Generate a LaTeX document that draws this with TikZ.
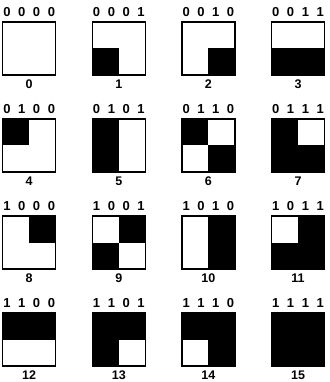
\documentclass[tikz,border=0pt]{standalone}
\usepackage{fontspec}
\setmainfont{Liberation Sans}
\usetikzlibrary{positioning}

\begin{document}
\begin{tikzpicture}[x=1pt,y=-1pt,
        cell/.style={draw, line width=1.3pt, minimum size=53pt, inner sep=0pt, outer sep=0pt},
        bit/.style={font=\bfseries\fontsize{13}{13}\selectfont, inner sep=0pt},
        num/.style={font=\bfseries\fontsize{12.5}{12.5}\selectfont, inner sep=0pt}]
        \useasboundingbox (0,0) rectangle (329,382);
        \foreach \n in {0,...,15}{
            \pgfmathtruncatemacro\row{floor(\n/4)}
            \pgfmathtruncatemacro\col{mod(\n,4)}
            \pgfmathtruncatemacro\bA{mod(\n,2)}
            \pgfmathtruncatemacro\bB{mod(floor(\n/2),2)}
            \pgfmathtruncatemacro\bC{mod(floor(\n/4),2)}
            \pgfmathtruncatemacro\bD{mod(floor(\n/8),2)}
            \node[cell] (c\n) at ({29.2+89.6*\col},{48.5+97*\row}) {};
            % one quadrant per bit
            \ifnum\bA=1 \fill (c\n.west) rectangle (c\n.south); \fi
            \ifnum\bB=1 \fill (c\n.center) rectangle (c\n.south east); \fi
            \ifnum\bC=1 \fill (c\n.north west) rectangle (c\n.center); \fi
            \ifnum\bD=1 \fill (c\n.north) rectangle (c\n.east); \fi
            \foreach \i in {0,...,3}{
                \pgfmathtruncatemacro\b{mod(floor(\n/2^(3-\i)),2)}
                \node[bit, above=5pt of c\n.north, xshift={(\i-1.5)*14.8pt}] (b\n-\i) {\b};
            }
            \node[num, below=5pt of c\n] (l\n) {\n};
        }
    \end{tikzpicture}
\end{document}
